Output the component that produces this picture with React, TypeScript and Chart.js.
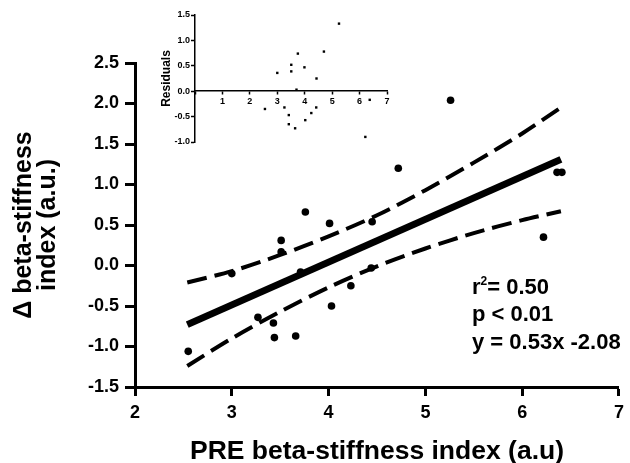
import React, { useEffect, useRef } from "react";
import { Chart, registerables } from "chart.js";

Chart.register(...registerables);

const FONT = "'Liberation Sans', Arial, Helvetica, sans-serif";

// Main scatter: PRE beta-stiffness index vs change in beta-stiffness index
const pointX = [2.55, 3.0, 3.27, 3.43, 3.44, 3.51, 3.51, 3.66, 3.71, 3.76, 4.01, 4.03, 4.23, 4.44, 4.45, 4.72, 5.26, 6.22, 6.36, 6.41];
const pointY = [-1.06, -0.1, -0.64, -0.71, -0.89, 0.31, 0.17, -0.87, -0.08, 0.66, 0.52, -0.5, -0.25, -0.03, 0.54, 1.2, 2.04, 0.35, 1.15, 1.15];

// Regression line
const fitX = [2.54, 6.4];
const fitY = [-0.73, 1.31];

// 95% confidence band
const bandX = [2.54, 3.0, 3.5, 4.0, 4.5, 5.0, 5.5, 6.0, 6.4];
const upperBand = [-0.21, -0.07, 0.13, 0.36, 0.62, 0.93, 1.27, 1.63, 1.95];
const lowerBand = [-1.24, -0.9, -0.57, -0.27, -0.01, 0.21, 0.4, 0.56, 0.67];

// Residuals inset
const resX = [2.55, 3.0, 3.26, 3.42, 3.42, 3.51, 3.51, 3.65, 3.7, 3.75, 3.99, 4.02, 4.24, 4.42, 4.43, 4.7, 5.25, 6.21, 6.37];
const resY = [-0.35, 0.36, -0.32, -0.47, -0.65, 0.52, 0.39, -0.73, 0.03, 0.74, 0.47, -0.57, -0.43, -0.32, 0.25, 0.78, 1.33, -0.9, -0.17];

// Axis labels & annotation text
const xTitle = "PRE beta-stiffness index (a.u)";
const yTitle = ["\u0394 beta-stiffness", "index (a.u.)"];
const insetYTitle = "Residuals";
const rSquared = "= 0.50";
const pText = "p < 0.01";
const eqText = "y = 0.53x -2.08";

const pts = (xs: number[], ys: number[]) => xs.map((x, i) => ({ x, y: ys[i] }));

const statsPlugin = {
  id: "stats",
  afterDraw(chart: any) {
    const ctx = chart.ctx;
    const x0 = 472;
    ctx.save();
    ctx.fillStyle = "#000";
    ctx.textBaseline = "alphabetic";
    ctx.textAlign = "left";
    ctx.font = `bold 22px ${FONT}`;
    ctx.fillText("r", x0, 294);
    const wr = ctx.measureText("r").width;
    ctx.font = `bold 12px ${FONT}`;
    ctx.fillText("2", x0 + wr, 285);
    const w2 = ctx.measureText("2").width;
    ctx.font = `bold 22px ${FONT}`;
    ctx.fillText(rSquared, x0 + wr + w2, 294);
    ctx.fillText(pText, x0, 321);
    ctx.fillText(eqText, x0, 349);
    ctx.restore();
  },
};

export default function App() {
  const mainRef = useRef<HTMLCanvasElement>(null);
  const insetRef = useRef<HTMLCanvasElement>(null);

  useEffect(() => {
    const tickFont = { family: FONT, size: 18, weight: "bold" as const };
    const main = new Chart(mainRef.current!, {
      type: "scatter",
      data: {
        datasets: [
          {
            label: "upper",
            data: pts(bandX, upperBand),
            showLine: true,
            borderColor: "#000",
            borderWidth: 4,
            borderDash: [20, 8],
            borderCapStyle: "butt",
            pointRadius: 0,
            tension: 0.3,
            fill: false,
          },
          {
            label: "lower",
            data: pts(bandX, lowerBand),
            showLine: true,
            borderColor: "#000",
            borderWidth: 4,
            borderDash: [20, 8],
            borderCapStyle: "butt",
            pointRadius: 0,
            tension: 0.3,
            fill: false,
          },
          {
            label: "fit",
            data: pts(fitX, fitY),
            showLine: true,
            borderColor: "#000",
            borderWidth: 7,
            pointRadius: 0,
            fill: false,
          },
          {
            label: "data",
            data: pts(pointX, pointY),
            pointRadius: 3.8,
            pointBackgroundColor: "#000",
            pointBorderWidth: 0,
            showLine: false,
          },
        ],
      },
      options: {
        responsive: false,
        animation: false,
        devicePixelRatio: 1,
        layout: { padding: { left: 0, top: 63, right: 9, bottom: 0 } },
        plugins: { legend: { display: false }, tooltip: { enabled: false } },
        scales: {
          x: {
            type: "linear",
            min: 2,
            max: 7,
            afterFit: (s: any) => {
              s.height = 76;
            },
            border: { display: true, color: "#000", width: 3 },
            grid: {
              display: true,
              drawOnChartArea: false,
              drawTicks: true,
              tickLength: 9,
              tickWidth: 3,
              tickColor: "#000",
              color: "#000",
            },
            ticks: { stepSize: 1, color: "#000", font: tickFont, padding: 6, callback: (v: any) => String(v) },
            title: {
              display: true,
              text: xTitle,
              color: "#000",
              font: { family: FONT, size: 26.5, weight: "bold", lineHeight: 0.85 },
              padding: { top: 0, bottom: 0 },
            },
          },
          y: {
            type: "linear",
            min: -1.5,
            max: 2.5,
            afterFit: (s: any) => {
              s.width = 135;
            },
            border: { display: true, color: "#000", width: 3 },
            grid: {
              display: true,
              drawOnChartArea: false,
              drawTicks: true,
              tickLength: 10,
              tickWidth: 3,
              tickColor: "#000",
              color: "#000",
            },
            ticks: {
              stepSize: 0.5,
              color: "#000",
              font: tickFont,
              padding: 6,
              callback: (v: any) => Number(v).toFixed(1),
            },
            title: {
              display: true,
              text: yTitle,
              color: "#000",
              font: { family: FONT, size: 25, weight: "bold", lineHeight: 0.96 },
              padding: { top: 12, bottom: 0 },
            },
          },
        },
      } as any,
      plugins: [statsPlugin],
    });

    const insetFont = { family: FONT, size: 9, weight: "bold" as const };
    const inset = new Chart(insetRef.current!, {
      type: "scatter",
      data: {
        datasets: [
          {
            label: "residuals",
            data: pts(resX, resY),
            pointStyle: "rect",
            pointRadius: 1.7,
            pointBackgroundColor: "#000",
            pointBorderWidth: 0,
          },
        ],
      },
      options: {
        responsive: false,
        animation: false,
        devicePixelRatio: 1,
        layout: { padding: { left: 0, top: 15, right: 13, bottom: 18 } },
        plugins: { legend: { display: false }, tooltip: { enabled: false } },
        scales: {
          x: {
            type: "linear",
            min: 0,
            max: 7,
            position: { y: 0 },
            border: { display: true, color: "#000", width: 1.5 },
            grid: {
              display: true,
              drawOnChartArea: false,
              drawTicks: true,
              tickLength: 3,
              tickWidth: 1.5,
              tickColor: "#000",
              color: "#000",
            },
            ticks: {
              stepSize: 1,
              color: "#000",
              font: insetFont,
              padding: 2,
              callback: (v: any) => (Number(v) === 0 ? "" : String(v)),
            },
          },
          y: {
            type: "linear",
            min: -1,
            max: 1.5,
            afterFit: (s: any) => {
              s.width = 45;
            },
            border: { display: true, color: "#000", width: 1.5 },
            grid: {
              display: true,
              drawOnChartArea: false,
              drawTicks: true,
              tickLength: 4,
              tickWidth: 1.5,
              tickColor: "#000",
              color: "#000",
            },
            ticks: {
              stepSize: 0.5,
              color: "#000",
              font: insetFont,
              padding: 1,
              callback: (v: any) => Number(v).toFixed(1),
            },
            title: {
              display: true,
              text: insetYTitle,
              color: "#000",
              font: { family: FONT, size: 12, weight: "bold", lineHeight: 1.2 },
              padding: { top: 9, bottom: 0 },
            },
          },
        },
      } as any,
    });

    return () => {
      main.destroy();
      inset.destroy();
    };
  }, []);

  return (
    <div style={{ position: "absolute", left: 0, top: 0, width: 630, height: 463, background: "#fff" }}>
      <canvas ref={mainRef} width={630} height={463} style={{ position: "absolute", left: 0, top: 0, width: 630, height: 463 }} />
      <canvas ref={insetRef} width={250} height={160} style={{ position: "absolute", left: 150, top: 0, width: 250, height: 160 }} />
    </div>
  );
}
